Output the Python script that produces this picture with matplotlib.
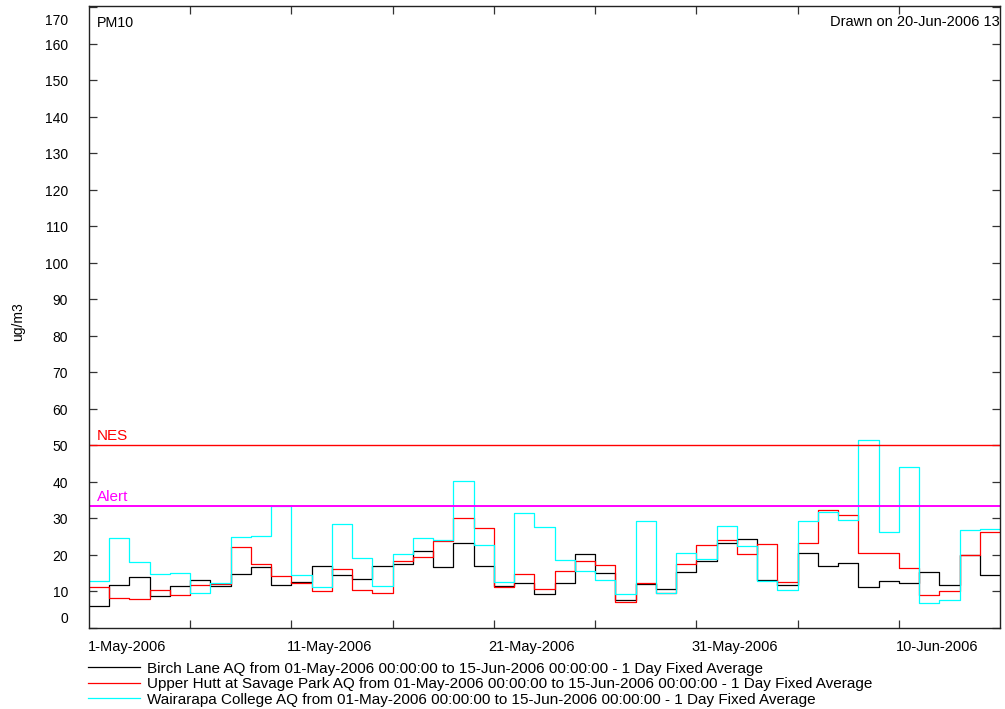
import numpy as np
import pandas as pd
import matplotlib
matplotlib.use('Agg')
import matplotlib.pyplot as plt
import matplotlib.dates as mdates
from matplotlib.lines import Line2D

plt.rcParams['font.family'] = ['Liberation Sans', 'DejaVu Sans']

# ---------------- data ----------------
day_edges = pd.date_range('2006-05-01', periods=46, freq='D')  # 45 daily bins

birch_lane = [5.9, 11.9, 14.0, 8.8, 11.6, 13.1, 11.4, 14.7, 16.8, 11.9,
              12.6, 16.9, 14.5, 13.3, 16.9, 17.6, 21.0, 16.7, 23.2, 17.0,
              11.5, 12.3, 9.2, 12.3, 20.2, 15.0, 7.8, 12.1, 10.7, 15.4,
              18.3, 23.4, 24.4, 13.1, 11.8, 20.6, 16.9, 17.7, 11.3, 12.9,
              12.2, 15.3, 11.7, 20.1, 14.6]
upper_hutt = [11.2, 8.3, 7.9, 10.5, 9.0, 11.8, 12.0, 22.3, 17.4, 14.3,
              12.3, 10.2, 16.3, 10.3, 9.6, 18.3, 19.5, 23.7, 30.0, 27.5,
              11.1, 14.8, 10.7, 15.6, 18.4, 17.3, 7.1, 12.3, 9.6, 17.4,
              22.7, 24.2, 20.2, 22.9, 12.5, 23.3, 32.3, 30.9, 20.6, 20.5,
              16.5, 9.1, 10.2, 20.1, 26.2]
wairarapa = [12.9, 24.6, 18.2, 14.7, 15.2, 9.7, 12.2, 24.8, 25.3, 33.3,
             14.4, 11.1, 28.6, 19.3, 11.4, 20.2, 24.6, 24.2, 40.4, 22.7,
             12.6, 31.4, 27.8, 18.6, 15.6, 13.2, 9.4, 29.2, 9.7, 20.6,
             18.9, 27.9, 22.6, 13.0, 10.3, 29.3, 31.7, 29.6, 51.6, 26.4,
             44.2, 6.9, 7.7, 26.9, 27.1]

nes_level = 50
alert_level = 33.3

ytick_values = list(range(0, 171, 10))
xtick_dates = pd.date_range('2006-05-06', '2006-06-10', freq='5D')
xlabel_dates = pd.to_datetime(['2006-05-01', '2006-05-11', '2006-05-21',
                               '2006-05-31', '2006-06-10'])
xlabel_texts = ['1-May-2006', '11-May-2006', '21-May-2006',
                '31-May-2006', '10-Jun-2006']
series_labels = [
    'Birch Lane AQ from 01-May-2006 00:00:00 to 15-Jun-2006 00:00:00 - 1 Day Fixed Average',
    'Upper Hutt at Savage Park AQ from 01-May-2006 00:00:00 to 15-Jun-2006 00:00:00 - 1 Day Fixed Average',
    'Wairarapa College AQ from 01-May-2006 00:00:00 to 15-Jun-2006 00:00:00 - 1 Day Fixed Average',
]
series_colors = ['#000000', '#ff0000', '#00ffff']

# ---------------- figure ----------------
W, H = 1005, 709
fig = plt.figure(figsize=(W / 100, H / 100), dpi=100)
ax = fig.add_axes([89 / W, 1 - 628 / H, (1000 - 89) / W, (628 - 6) / H])

x_edges = mdates.date2num(day_edges.to_pydatetime())

handles = []
for vals, col in zip([birch_lane, upper_hutt, wairarapa], series_colors):
    ax.step(x_edges, list(vals) + [vals[-1]], where='post', color=col, lw=0.9)
    handles.append(Line2D([], [], color=col, lw=0.9))

ax.axhline(nes_level, color='#ff0000', lw=1.0)
ax.axhline(alert_level, color='#ff00ff', lw=1.4)

ax.set_xlim(x_edges[0], x_edges[-1])
ax.set_ylim(0, 170.4)

ax.set_xticks(mdates.date2num(xtick_dates.to_pydatetime()))
ax.set_yticks(ytick_values)
ax.tick_params(direction='in', length=5.5, width=0.9, top=True, right=True,
               labelbottom=False, labelleft=False, color='#333333')
for sp in ax.spines.values():
    sp.set_linewidth(1.0)
    sp.set_color('#222222')

# y tick labels (ends shifted inward like the original)
ytrans = ax.get_yaxis_transform()
for v in ytick_values:
    dy = -4.0
    if v == ytick_values[0]:
        dy = 3.5
    elif v == ytick_values[-1]:
        dy = -12.6
    ax.annotate(str(v), xy=(0, v), xycoords=ytrans, xytext=(-15, dy),
                textcoords='offset points', ha='right', va='baseline',
                fontsize=10, annotation_clip=False)

# x tick labels
xtrans = ax.get_xaxis_transform()
for d, t in zip(mdates.date2num(xlabel_dates.to_pydatetime()), xlabel_texts):
    ax.annotate(t, xy=(d + 1.875, 0), xycoords=xtrans,
                xytext=(0, -16.5), textcoords='offset points',
                ha='center', va='baseline', fontsize=10.5, annotation_clip=False)

# threshold labels
ax.annotate('NES', xy=(0.009, nes_level), xycoords=ytrans, xytext=(0, 3.6),
            textcoords='offset points', color='#ff0000', fontsize=11, va='baseline')
ax.annotate('Alert', xy=(0.009, alert_level), xycoords=ytrans, xytext=(0, 3.6),
            textcoords='offset points', color='#ff00ff', fontsize=11, va='baseline')

# corner texts
ax.text(97 / W, 1 - 27 / H, 'PM10', transform=fig.transFigure, fontsize=10.3,
        va='baseline', ha='left')
ax.text(999.5 / W, 1 - 26.5 / H, 'Drawn on 20-Jun-2006 13', transform=fig.transFigure,
        fontsize=10.5, va='baseline', ha='right')

fig.text(18 / W, 1 - 322 / H, 'ug/m3', rotation=90, ha='center', va='center', fontsize=10)

fig.legend(handles, series_labels, loc='upper left',
           bbox_to_anchor=(88 / W, 1 - 661.5 / H), frameon=False,
           handlelength=3.4, handletextpad=0.5, labelspacing=0.1,
           borderpad=0, borderaxespad=0, fontsize=10.95)

fig.savefig('out.png', dpi=100)
